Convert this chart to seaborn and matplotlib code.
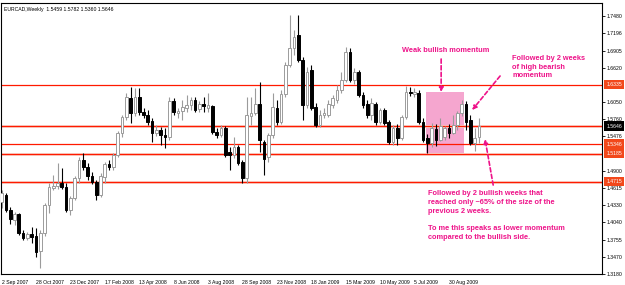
import numpy as np
import pandas as pd
import matplotlib
matplotlib.use("Agg")
import matplotlib.pyplot as plt
import matplotlib.transforms as mtransforms
import seaborn as sns

# weekly EURCAD candles (week index from 2 Sep 2007)
opens = [1.4380, 1.4497, 1.4247, 1.4080, 1.4180, 1.3863, 1.3780, 1.3847, 1.3813, 1.3563,
         1.3863, 1.4330, 1.4613, 1.4647, 1.4697, 1.4630, 1.4247, 1.4447, 1.4780, 1.5080,
         1.4963, 1.4813, 1.4713, 1.4497, 1.4797, 1.5013, 1.4963, 1.5163, 1.5530, 1.5797,
         1.6113, 1.5863, 1.6130, 1.5880, 1.5830, 1.5730, 1.5530, 1.5580, 1.5497, 1.5463,
         1.6063, 1.5863, 1.5897, 1.5947, 1.5997, 1.6080, 1.5930, 1.6013, 1.5947, 1.5980,
         1.5547, 1.5497, 1.5613, 1.5213, 1.5163, 1.5297, 1.5047, 1.4780, 1.5813, 1.5863,
         1.6013, 1.5380, 1.5130, 1.5497, 1.5947, 1.5713, 1.6180, 1.6663, 1.6947, 1.7163,
         1.6747, 1.5997, 1.6580, 1.5963, 1.5663, 1.5830, 1.5830, 1.5997, 1.6080, 1.6247,
         1.6413, 1.6880, 1.6413, 1.6547, 1.6163, 1.6013, 1.5830, 1.6013, 1.5713, 1.5913,
         1.5713, 1.5380, 1.5613, 1.5447, 1.5797, 1.6213, 1.6180, 1.6197, 1.5713, 1.5447,
         1.5363, 1.5597, 1.5413, 1.5463, 1.5613, 1.5530, 1.5663, 1.5863, 1.6013, 1.5747,
         1.5363, 1.5459]
highs = [1.4580, 1.4530, 1.4297, 1.4213, 1.4197, 1.3913, 1.3880, 1.3963, 1.3947, 1.3913,
         1.4363, 1.4697, 1.4830, 1.5030, 1.4947, 1.4697, 1.4480, 1.4813, 1.5130, 1.5197,
         1.5030, 1.4880, 1.4747, 1.4863, 1.5047, 1.5080, 1.5197, 1.5563, 1.5830, 1.6197,
         1.6297, 1.6280, 1.6280, 1.5947, 1.5913, 1.5780, 1.5663, 1.5630, 1.5613, 1.6130,
         1.6113, 1.5947, 1.6080, 1.6163, 1.6130, 1.6130, 1.6063, 1.6130, 1.6197, 1.5997,
         1.5613, 1.5663, 1.5647, 1.5297, 1.5463, 1.5330, 1.5080, 1.6130, 1.6130, 1.6280,
         1.6380, 1.5413, 1.5530, 1.6197, 1.6080, 1.6247, 1.6713, 1.7497, 1.7247, 1.7497,
         1.6797, 1.6630, 1.6663, 1.6030, 1.5913, 1.5947, 1.6080, 1.6163, 1.6330, 1.6547,
         1.6963, 1.6947, 1.6613, 1.6580, 1.6213, 1.6080, 1.6113, 1.6047, 1.5947, 1.5947,
         1.5747, 1.5663, 1.5680, 1.5830, 1.6313, 1.6297, 1.6280, 1.6247, 1.5780, 1.5513,
         1.5697, 1.5680, 1.5780, 1.5647, 1.5680, 1.5830, 1.5897, 1.6080, 1.6063, 1.5830,
         1.5613, 1.5782]
lows = [1.4280, 1.4213, 1.4013, 1.3997, 1.3830, 1.3747, 1.3747, 1.3697, 1.3463, 1.3280,
        1.3813, 1.4197, 1.4580, 1.4597, 1.4597, 1.4213, 1.4163, 1.4413, 1.4697, 1.4913,
        1.4747, 1.4680, 1.4413, 1.4463, 1.4697, 1.4913, 1.4913, 1.5130, 1.5463, 1.5747,
        1.5697, 1.5813, 1.5830, 1.5780, 1.5663, 1.5380, 1.5480, 1.5330, 1.5280, 1.5413,
        1.5830, 1.5780, 1.5747, 1.5880, 1.5913, 1.5880, 1.5880, 1.5880, 1.5880, 1.5513,
        1.5447, 1.5463, 1.5130, 1.4913, 1.5113, 1.4997, 1.4697, 1.4697, 1.5663, 1.5830,
        1.5213, 1.4830, 1.5047, 1.5447, 1.5663, 1.5680, 1.6130, 1.6630, 1.6830, 1.6713,
        1.5747, 1.5947, 1.5913, 1.5630, 1.5630, 1.5780, 1.5797, 1.5947, 1.6030, 1.6197,
        1.6380, 1.6380, 1.6347, 1.6130, 1.5947, 1.5780, 1.5747, 1.5663, 1.5680, 1.5663,
        1.5347, 1.5330, 1.5330, 1.5413, 1.5763, 1.6147, 1.6130, 1.5680, 1.5380, 1.5197,
        1.5297, 1.5313, 1.5397, 1.5413, 1.5447, 1.5513, 1.5580, 1.5813, 1.5580, 1.5330,
        1.5230, 1.5360]
closes = [1.4530, 1.4247, 1.4097, 1.4180, 1.3863, 1.3780, 1.3847, 1.3797, 1.3547, 1.3863,
          1.4330, 1.4630, 1.4647, 1.4697, 1.4630, 1.4247, 1.4447, 1.4780, 1.5080, 1.4963,
          1.4813, 1.4713, 1.4497, 1.4813, 1.5013, 1.4963, 1.5163, 1.5530, 1.5797, 1.6130,
          1.5863, 1.6130, 1.5880, 1.5830, 1.5713, 1.5530, 1.5580, 1.5497, 1.5463, 1.6063,
          1.5880, 1.5897, 1.5963, 1.5997, 1.6080, 1.5913, 1.6013, 1.5980, 1.5997, 1.5547,
          1.5497, 1.5613, 1.5163, 1.5163, 1.5297, 1.5030, 1.4780, 1.5830, 1.5863, 1.6013,
          1.5413, 1.5097, 1.5497, 1.5963, 1.5713, 1.6180, 1.6663, 1.6947, 1.7130, 1.6747,
          1.5997, 1.6547, 1.5947, 1.5663, 1.5830, 1.5863, 1.6013, 1.6113, 1.6247, 1.6413,
          1.6880, 1.6413, 1.6547, 1.6163, 1.5997, 1.5830, 1.6030, 1.5713, 1.5913, 1.5697,
          1.5380, 1.5613, 1.5447, 1.5797, 1.6213, 1.6197, 1.6213, 1.5713, 1.5413, 1.5363,
          1.5613, 1.5413, 1.5647, 1.5613, 1.5530, 1.5663, 1.5863, 1.6013, 1.5713, 1.5363,
          1.5447, 1.5646]
weeks = list(range(len(opens)))

date_ticks = [0, 8, 16, 24, 32, 40, 48, 56, 64, 72, 80, 88, 96, 104]
date_labels = ["2 Sep 2007", "28 Oct 2007", "23 Dec 2007", "17 Feb 2008", "13 Apr 2008",
               "8 Jun 2008", "3 Aug 2008", "28 Sep 2008", "23 Nov 2008", "18 Jan 2009",
               "15 Mar 2009", "10 May 2009", "5 Jul 2009", "30 Aug 2009"]
price_ticks = [1.7480, 1.7196, 1.6905, 1.6620, 1.6050, 1.5760, 1.5476,
               1.4900, 1.4615, 1.4330, 1.4040, 1.3755, 1.3470, 1.3180]
levels = [1.6335, 1.5346, 1.5185, 1.4715]
current_price = 1.5646
box_weeks = [98.7, 107.6]
box_prices = [1.5197, 1.6213]

PINK = "#ee1289"
RED = "#ff1a00"
SMALL = 3.7

sns.set_theme(style="white")
plt.rcParams["font.family"] = ["Liberation Sans", "DejaVu Sans"]

df = pd.DataFrame({"week": weeks, "open": opens, "high": highs,
                   "low": lows, "close": closes})
df["bull"] = df["close"] >= df["open"]
df["bottom"] = df[["open", "close"]].min(axis=1)
df["height"] = (df["close"] - df["open"]).abs().clip(lower=0.0008)

fig = plt.figure(figsize=(6.25, 2.85), dpi=100)
ax = fig.add_axes([1 / 625, 11 / 285, 601 / 625, 271 / 285])

# highlighted area
ax.fill_between(box_weeks, box_prices[0], box_prices[1], color="#f5a6cf", lw=0, zorder=1)

# horizontal levels
for lv in [current_price, 1.5185, 1.4715]:
    ax.axhline(lv, color="#f8d2c8", lw=2.0, zorder=1.5)
for lv in levels + [current_price]:
    ax.axhline(lv, color=RED, lw=0.9, zorder=1.6)

up = df[df["bull"]]
dn = df[~df["bull"]]
ax.vlines(up["week"], up["low"], up["high"], color="#9b9b9b", lw=0.8, zorder=2)
ax.vlines(dn["week"], dn["low"], dn["high"], color="black", lw=0.8, zorder=2)
ax.bar(up["week"], up["height"], bottom=up["bottom"], width=0.62, color="white",
       edgecolor="#9b9b9b", lw=0.7, zorder=3)
ax.bar(dn["week"], dn["height"], bottom=dn["bottom"], width=0.62, color="black",
       edgecolor="black", lw=0.7, zorder=3)

ax.set_xlim(-0.14, 139.6)
ax.set_ylim(1.3180, 1.7697)

for s in ax.spines.values():
    s.set_color("black")
    s.set_linewidth(0.8)

ax.set_xticks(date_ticks)
ax.set_xticklabels(date_labels, ha="left")
ax.yaxis.tick_right()
ax.set_yticks(price_ticks)
ax.set_yticklabels([f"{p:.4f}" for p in price_ticks])
ax.tick_params(axis="both", direction="out", length=2, width=0.6, labelsize=SMALL,
               pad=1.5, colors="black")
ax.tick_params(axis="x", pad=2)

# price labels in boxes on the right axis
trans = mtransforms.blended_transform_factory(ax.transAxes, ax.transData)
for lv in levels:
    ax.text(1.0075, lv, f"{lv:.4f}", transform=trans, fontsize=SMALL, color="white",
            va="center", ha="left", clip_on=False,
            bbox=dict(boxstyle="square,pad=0.4", fc="#f2481b", ec="none"))
ax.text(1.0075, current_price, f"{current_price:.4f}", transform=trans, fontsize=SMALL,
        color="white", va="center", ha="left", clip_on=False,
        bbox=dict(boxstyle="square,pad=0.4", fc="black", ec="none"))

ax.text(0.005, 0.985, "EURCAD,Weekly  1.5459 1.5782 1.5360 1.5646",
        transform=ax.transAxes, fontsize=SMALL, va="top", ha="left", color="black")

# annotations
bold = dict(color=PINK, fontsize=5.3, fontweight="bold", ha="left")
ax.text(93.1, 1.6913, "Weak bullish momentum", va="center", **bold)
ax.text(118.7, 1.6830, "Followed by 2 weeks\nof high bearish\nmomentum",
        va="top", linespacing=1.3, **bold)
ax.text(99.2, 1.4575,
        "Followed by 2 bullish weeks that\nreached only ~65% of the size of the\n"
        "previous 2 weeks.\n\nTo me this speaks as lower momentum\ncompared to the bullish side.",
        va="top", linespacing=1.35, **bold)

arrow = dict(arrowstyle="-|>", color=PINK, lw=1.2, linestyle=(0, (2.5, 1.5)),
             mutation_scale=6, shrinkA=0, shrinkB=0)
ax.annotate("", xy=(102.2, 1.6213), xytext=(102.2, 1.6763), arrowprops=arrow)
ax.annotate("", xy=(109.4, 1.5913), xytext=(115.9, 1.6480), arrowprops=arrow)
ax.annotate("", xy=(112.4, 1.5430), xytext=(114.3, 1.4663), arrowprops=arrow)

fig.savefig("out.png", dpi=100)
